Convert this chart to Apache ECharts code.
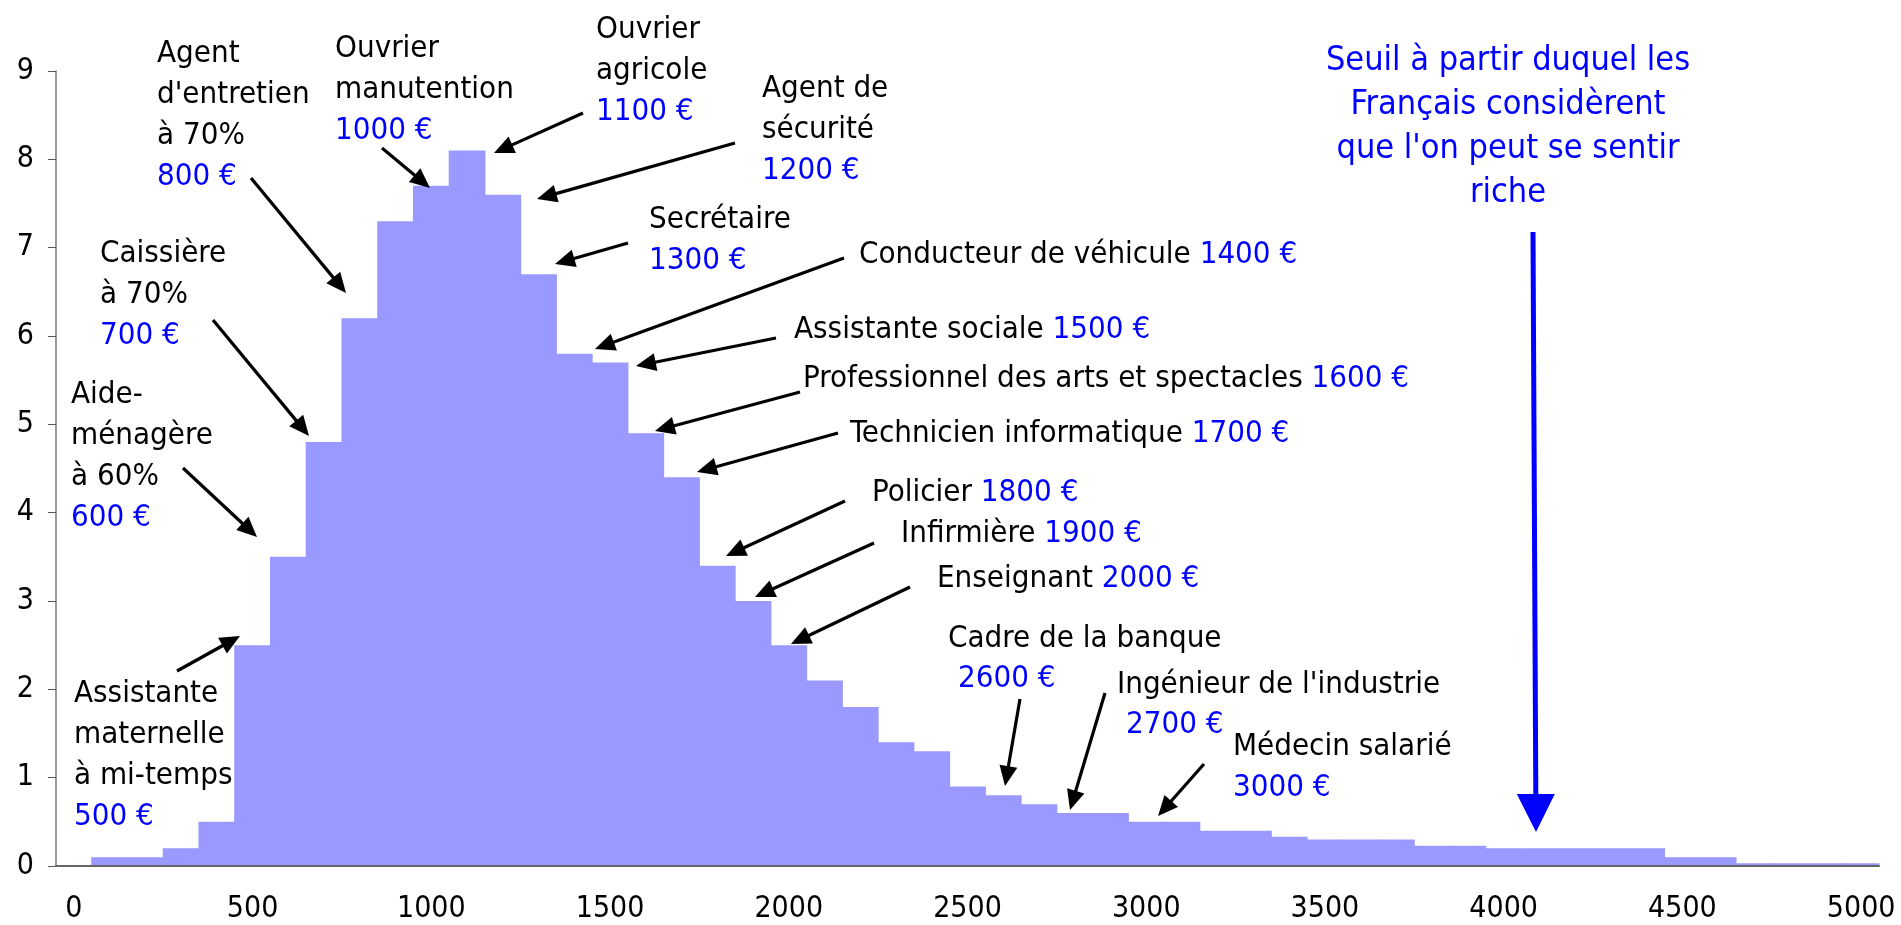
<!DOCTYPE html>
<html>
<head>
<meta charset="utf-8">
<script src="https://cdn.jsdelivr.net/npm/echarts@6/dist/echarts.min.js"></script>
<style>
  html, body { margin: 0; padding: 0; background: #fff; }
  #main { width: 1901px; height: 925px; }
</style>
</head>
<body>
<div id="main"></div>
<script>
// == bins of 100 € (category labels) ==
const bins = [];
for (let b = 0; b <= 5000; b += 100) bins.push(String(b));

// == share of employees per bin (%) ==
const shares = [
  0, 0.1, 0.1, 0.2, 0.5, 2.5, 3.5, 4.8, 6.2, 7.3,
  7.7, 8.1, 7.6, 6.7, 5.8, 5.7, 4.9, 4.4, 3.4, 3.0,
  2.5, 2.1, 1.8, 1.4, 1.3, 0.9, 0.8, 0.7, 0.6, 0.6,
  0.5, 0.5, 0.4, 0.4, 0.33, 0.3, 0.3, 0.3, 0.23, 0.23,
  0.2, 0.2, 0.2, 0.2, 0.2, 0.1, 0.1, 0.03, 0.03, 0.03,
  0.03
];

// == y ticks ==
const yMin = 0, yMax = 9, yStep = 1;

// == annotations: [left x, first line y, lines] ==
const notes = [
  [157, 54, ['Agent', "d'entretien", 'à 70%', '{b|800 €}']],
  [335, 49, ['Ouvrier', 'manutention', '{b|1000 €}']],
  [596, 30, ['Ouvrier', 'agricole', '{b|1100 €}']],
  [762, 89, ['Agent de', 'sécurité', '{b|1200 €}']],
  [649, 220, ['Secrétaire', '{b|1300 €}']],
  [100, 254, ['Caissière', 'à 70%', '{b|700 €}']],
  [71, 395, ['Aide-', 'ménagère', 'à 60%', '{b|600 €}']],
  [74, 694, ['Assistante', 'maternelle', 'à mi-temps', '{b|500 €}']],
  [859, 255, ['Conducteur de véhicule {b|1400 €}']],
  [794, 330, ['Assistante sociale {b|1500 €}']],
  [803, 379, ['Professionnel des arts et spectacles {b|1600 €}']],
  [850, 434, ['Technicien informatique {b|1700 €}']],
  [872, 493, ['Policier {b|1800 €}']],
  [901, 534, ['Infirmière {b|1900 €}']],
  [937, 579, ['Enseignant {b|2000 €}']],
  [948, 639, ['Cadre de la banque']],
  [958, 679, ['{b|2600 €}']],
  [1117, 685, ["Ingénieur de l'industrie"]],
  [1126, 725, ['{b|2700 €}']],
  [1233, 747, ['Médecin salarié', '{b|3000 €}']]
];
// == arrows: [x1, y1, x2 (tip), y2 (tip)] ==
const arrows = [
  [177, 671, 240, 636],
  [183, 468, 257, 537],
  [213, 320, 309, 436],
  [251, 178, 346, 293],
  [382, 148, 430, 188],
  [583, 113, 494, 153],
  [735, 143, 537, 199],
  [628, 243, 555, 264],
  [844, 258, 595, 349],
  [776, 338, 636, 366],
  [800, 392, 655, 431],
  [838, 433, 697, 472],
  [845, 501, 726, 556],
  [874, 543, 755, 597],
  [910, 587, 791, 644],
  [1020, 699, 1005, 786],
  [1105, 693, 1070, 810],
  [1204, 764, 1158, 816]
];
const richLines = ['Seuil à partir duquel les', 'Français considèrent', "que l'on peut se sentir", 'riche'];

const FONT = "'DejaVu Sans Condensed', 'DejaVu Sans', sans-serif";
const LH = 41;

function arrow(x1, y1, x2, y2, color, width, headLen, headHalf) {
  const dx = x2 - x1, dy = y2 - y1;
  const len = Math.sqrt(dx * dx + dy * dy);
  const ux = dx / len, uy = dy / len;
  const bx = x2 - ux * headLen, by = y2 - uy * headLen;
  return [
    {
      type: 'line',
      shape: { x1: x1, y1: y1, x2: bx + ux * 2, y2: by + uy * 2 },
      style: { stroke: color, lineWidth: width },
      z: 10
    },
    {
      type: 'polygon',
      shape: { points: [[x2, y2], [bx - uy * headHalf, by + ux * headHalf], [bx + uy * headHalf, by - ux * headHalf]] },
      style: { fill: color },
      z: 10
    }
  ];
}

const graphics = [];
notes.forEach(function (n) {
  n[2].forEach(function (t, i) {
    graphics.push({
      type: 'text',
      z: 10,
      style: {
        x: n[0],
        y: n[1] + i * LH,
        text: t,
        font: '31px ' + FONT,
        fill: '#000',
        verticalAlign: 'middle',
        align: 'left',
        rich: { b: { fill: '#0000ff', font: '31px ' + FONT } }
      }
    });
  });
});
arrows.forEach(function (a) {
  graphics.push.apply(graphics, arrow(a[0], a[1], a[2], a[3], '#000', 3.2, 20, 9));
});
richLines.forEach(function (t, i) {
  graphics.push({
    type: 'text',
    z: 10,
    style: {
      x: 1508,
      y: 61 + i * 44,
      text: t,
      font: '34px ' + FONT,
      fill: '#0000ff',
      verticalAlign: 'middle',
      align: 'center'
    }
  });
});
graphics.push.apply(graphics, arrow(1533, 232, 1536, 832, '#0000ff', 5, 38, 19));

var chartDom = document.getElementById('main');
var myChart = echarts.init(chartDom, null, { renderer: 'canvas' });
var option = {
  animation: false,
  backgroundColor: '#fff',
  grid: { left: 56, right: 22, top: 71, bottom: 59, containLabel: false },
  xAxis: {
    type: 'category',
    data: bins,
    boundaryGap: true,
    z: 5,
    axisLine: { lineStyle: { color: '#666', width: 2 } },
    axisTick: { interval: 0, length: 8, lineStyle: { color: '#555', width: 1.5 } },
    axisLabel: {
      interval: 4,
      fontSize: 30,
      fontFamily: FONT,
      color: '#000',
      margin: 28
    },
    splitLine: { show: false }
  },
  yAxis: {
    type: 'value',
    min: yMin,
    max: yMax,
    interval: yStep,
    axisLine: { show: true, lineStyle: { color: '#777', width: 1.5 } },
    axisTick: { show: true, length: 8, lineStyle: { color: '#555' } },
    axisLabel: { fontSize: 30, fontFamily: FONT, color: '#000', margin: 22 },
    splitLine: { show: false }
  },
  series: [
    {
      // histogram bins drawn edge to edge (no seams)
      type: 'custom',
      silent: true,
      encode: { x: 0, y: 1 },
      data: shares.map(function (v, i) { return [i, v]; }),
      renderItem: function (params, api) {
        const top = api.coord([api.value(0), api.value(1)]);
        const base = api.coord([api.value(0), 0]);
        const w = api.size([1, 0])[0];
        return {
          type: 'rect',
          shape: { x: top[0] - w / 2 - 0.5, y: top[1], width: w + 1, height: base[1] - top[1] },
          style: { fill: '#9999ff' }
        };
      }
    }
  ],
  graphic: graphics
};
myChart.setOption(option);
</script>
</body>
</html>
